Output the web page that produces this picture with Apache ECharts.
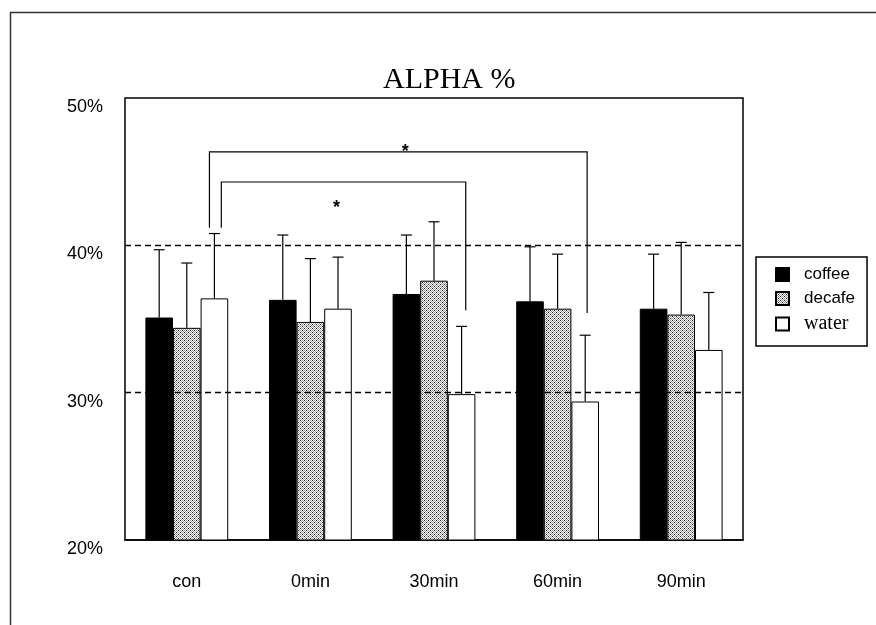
<!DOCTYPE html>
<html>
<head>
<meta charset="utf-8">
<script src="https://cdn.jsdelivr.net/npm/echarts@6/dist/echarts.min.js"></script>
<style>
  html, body { margin: 0; padding: 0; background: #fff; }
  #chart { width: 876px; height: 625px; }
</style>
</head>
<body>
<div id="chart"></div>
<script>
const categories = ['con', '0min', '30min', '60min', '90min']
const coffee = [35.1, 36.3, 36.7, 36.2, 35.7]
const coffeeErr = [39.7, 40.7, 40.7, 39.9, 39.4] // top of error bar
const decafe = [34.4, 34.8, 37.6, 35.7, 35.3]
const decafeErr = [38.8, 39.1, 41.6, 39.4, 40.2]
const water = [36.4, 35.7, 29.9, 29.4, 32.9]
const waterErr = [40.8, 39.2, 34.5, 33.9, 36.8]
const yTicks = [20, 30, 40, 50]
const refLines = [40, 30]
// significance brackets: from category, to category, left foot, right foot, top, star level
const bracketFrom = [0, 0]
const bracketTo = [3, 2]
const bracketLeft = [41.2, 41.2]
const bracketRight = [35.4, 35.6]
const bracketTop = [46.35, 44.3]
const bracketStar = [46.6, 42.8]

const GAP = 0.33

// dotted fill for decafe
const makePattern = () => {
  const c = document.createElement('canvas')
  c.width = 4
  c.height = 4
  const ctx = c.getContext('2d')
  ctx.fillStyle = '#fff'
  ctx.fillRect(0, 0, 4, 4)
  for (let x = 0; x < 4; x++) {
    for (let y = 0; y < 4; y++) {
      if ((x + y) % 2 === 0) {
        ctx.fillStyle = '#9a9a9a'
        ctx.fillRect(x, y, 1, 1)
      }
    }
  }
  ctx.fillStyle = '#222'
  ctx.fillRect(0, 0, 1, 1)
  ctx.fillRect(2, 2, 1, 1)
  return c
}

const errSeries = (idx, vals, errs) => ({
  type: 'custom',
  z: 3,
  silent: true,
  data: categories.map((c, i) => [i, vals[i], errs[i]]),
  encode: { x: 0, y: [1, 2] },
  renderItem: (params, api) => {
    const i = api.value(0)
    const base = api.coord([i, api.value(1)])
    const top = api.coord([i, api.value(2)])
    const bw = (api.size([1, 0])[0] * (1 - GAP)) / 3
    const x = base[0] + (idx - 1) * bw
    const st = { stroke: '#000', lineWidth: 1.2 }
    return {
      type: 'group',
      children: [
        { type: 'line', shape: { x1: x, y1: base[1], x2: x, y2: top[1] }, style: st },
        { type: 'line', shape: { x1: x - 5.5, y1: top[1], x2: x + 5.5, y2: top[1] }, style: st },
      ],
    }
  },
})

// offsets of bracket feet, in bar widths from the water bar centre
const footShift = [[-0.18, 0.07], [0.25, 0.15]]

const bracketSeries = {
  type: 'custom',
  z: 4,
  silent: true,
  data: bracketFrom.map((f, k) => [f, bracketTo[k], bracketLeft[k], bracketRight[k], bracketTop[k], bracketStar[k], k]),
  encode: { x: [0, 1], y: [2, 3, 4] },
  renderItem: (params, api) => {
    const k = api.value(6)
    const bw = (api.size([1, 0])[0] * (1 - GAP)) / 3
    const a = api.coord([api.value(0), api.value(2)])
    const b = api.coord([api.value(1), api.value(3)])
    const t = api.coord([api.value(0), api.value(4)])
    const s = api.coord([api.value(0), api.value(5)])
    const x1 = a[0] + bw + footShift[k][0] * bw
    const x2 = b[0] + bw + footShift[k][1] * bw
    return {
      type: 'group',
      children: [
        {
          type: 'polyline',
          shape: { points: [[x1, a[1]], [x1, t[1]], [x2, t[1]], [x2, b[1]]] },
          style: { stroke: '#000', lineWidth: 1.2, fill: null },
        },
        {
          type: 'text',
          style: {
            text: '*',
            x: (x1 + x2) / 2 + (k === 0 ? 7 : -7),
            y: s[1] + 4,
            align: 'center',
            verticalAlign: 'middle',
            fontSize: 18,
            fontWeight: 'bold',
            fontFamily: 'Liberation Sans',
            fill: '#000',
          },
        },
      ],
    }
  },
}

const myChart = echarts.init(document.getElementById('chart'))
const barStyle = (color) => ({ color: color, borderColor: '#000', borderWidth: 1 })

const option = {
  backgroundColor: '#fff',
  animation: false,
  title: {
    text: 'ALPHA %',
    left: 378,
    top: 60,
    textStyle: { fontFamily: 'Liberation Serif', fontSize: 30, fontWeight: 'normal', color: '#000' },
  },
  graphic: [
    {
      type: 'polyline',
      shape: { points: [[10.5, 625], [10.5, 12.5], [876, 12.5]] },
      style: { stroke: '#333', lineWidth: 1.5, fill: null },
      silent: true,
    },
  ],
  legend: {
    orient: 'vertical',
    left: 756,
    top: 257,
    padding: [9, 12, 12, 19],
    itemWidth: 13,
    itemHeight: 13,
    itemGap: 7,
    borderColor: '#000',
    borderWidth: 1.5,
    selectedMode: false,
    textStyle: { fontFamily: 'Liberation Sans', fontSize: 17, lineHeight: 17, color: '#000', padding: [0, 0, 0, 10] },
    data: [
      { name: 'coffee', icon: 'rect' },
      { name: 'decafe', icon: 'rect' },
      { name: 'water', icon: 'rect', textStyle: { fontFamily: 'Liberation Serif', fontSize: 20, lineHeight: 17 } },
    ],
  },
  grid: {
    left: 125,
    top: 98,
    right: 133,
    bottom: 85,
    show: true,
    borderColor: '#000',
    borderWidth: 1.5,
  },
  xAxis: {
    type: 'category',
    data: categories,
    axisLine: { lineStyle: { color: '#000', width: 1.5 } },
    axisTick: { inside: true, length: 8, lineStyle: { color: '#000' } },
    axisLabel: { color: '#000', fontFamily: 'Liberation Sans', fontSize: 18, margin: 33 },
  },
  yAxis: {
    type: 'value',
    min: yTicks[0],
    max: yTicks[yTicks.length - 1],
    interval: 10,
    axisLine: { show: false },
    axisTick: { show: false },
    splitLine: { show: false },
    axisLabel: {
      color: '#000',
      fontFamily: 'Liberation Sans Narrow, Liberation Sans',
      fontSize: 18,
      margin: 22,
      verticalAlign: 'top',
      formatter: '{value}%',
    },
  },
  series: [
    {
      type: 'line',
      z: 1,
      data: [],
      silent: true,
      markLine: {
        silent: true,
        symbol: 'none',
        label: { show: false },
        lineStyle: { color: '#000', type: [6, 4], width: 1.3 },
        data: refLines.map((v) => ({ yAxis: v })),
      },
    },
    {
      name: 'coffee',
      type: 'bar',
      z: 2,
      barGap: '0%',
      barCategoryGap: GAP * 100 + '%',
      itemStyle: barStyle('#000'),
      data: coffee,
    },
    {
      name: 'decafe',
      type: 'bar',
      z: 2,
      itemStyle: barStyle({ image: makePattern(), repeat: 'repeat' }),
      data: decafe,
    },
    {
      name: 'water',
      type: 'bar',
      z: 2,
      itemStyle: barStyle('#fff'),
      data: water,
    },
    errSeries(0, coffee, coffeeErr),
    errSeries(1, decafe, decafeErr),
    errSeries(2, water, waterErr),
    bracketSeries,
  ],
}
option && myChart.setOption(option)
</script>
</body>
</html>
